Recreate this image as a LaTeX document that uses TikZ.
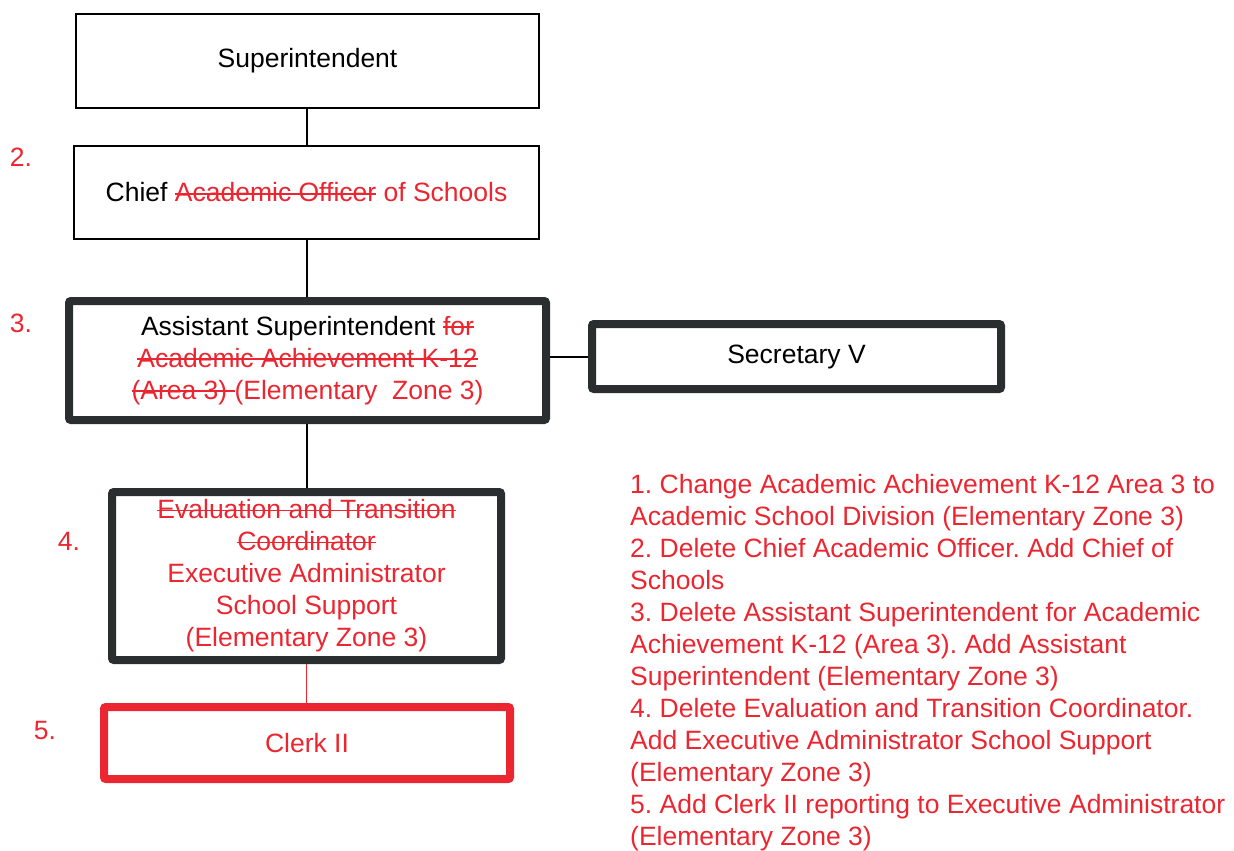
\documentclass[tikz,border=0pt]{standalone}
\usepackage{fontspec}
\setmainfont{Liberation Sans}
\usepackage{tikz}
\usetikzlibrary{positioning}
\usepackage{xcolor}

\definecolor{mred}{RGB}{236,38,48}
\definecolor{boxgray}{RGB}{42,46,46}
\newcommand{\strk}[1]{{\color{mred}\setbox0=\hbox{#1}\rlap{\rule[0.28em]{\wd0}{1.6pt}}\box0}}
\newcommand{\addtxt}[1]{{\color{mred}#1}}
\frenchspacing

\begin{document}
\begin{tikzpicture}[x=1pt,y=-1pt,
    txt/.style={font=\fontsize{26.5}{32}\selectfont, align=center, inner sep=0pt},
    thinbox/.style={txt, draw=black, line width=2pt, fill=white},
    thickbox/.style={txt, draw=boxgray, line width=8pt, fill=white, rounded corners=2pt},
    clerkbox/.style={txt, draw=mred, line width=8pt, fill=white, rounded corners=2pt},
    numlbl/.style={font=\fontsize{26.5}{32}\selectfont, text=mred, inner sep=0pt},
    link/.style={line width=2pt, black}]
                \useasboundingbox (0,0) rectangle (1234,851);

                % Superintendent box
                \node[thinbox, minimum width=463pt, minimum height=94pt] (sup) at (307.5,61) {Superintendent};

                % Chief box
                \node[thinbox, minimum width=465pt, minimum height=93pt] (chief) at (306.5,192.5)
                    {Chief \strk{Academic Officer} \addtxt{of Schools}};
                \node[numlbl] (n2) at (21,157) {2.};

                % Assistant Superintendent box
                \node[thickbox, minimum width=477pt, minimum height=119pt] (asst) at (307.5,360.5)
                    {Assistant Superintendent \strk{for}\\
                     \strk{Academic Achievement K-12}\\
                     \strk{(Area 3) }\addtxt{(Elementary \ Zone 3)}};
                \node[numlbl] (n3) at (21,323) {3.};

                % Secretary box
                \node[thickbox, minimum width=409pt, minimum height=65pt] (sec) at (796.5,356.5) {Secretary V};

                % Executive Administrator box
                \node[thickbox, minimum width=389pt, minimum height=168pt] (exec) at (306.5,576)
                    {\strk{Evaluation and Transition}\\
                     \strk{Coordinator}\\
                     \addtxt{Executive Administrator}\\
                     \addtxt{School Support}\\
                     \addtxt{(Elementary Zone 3)}};
                \node[numlbl] (n4) at (69,541) {4.};

                % Clerk box
                \node[clerkbox, minimum width=406pt, minimum height=72pt] (clerk) at (307,743) {\addtxt{Clerk II}};
                \node[numlbl] (n5) at (45,731) {5.};

                % Connectors
                \draw[link] (chief.north) -- (chief.north |- sup.south);
                \draw[link] (chief.south) -- (chief.south |- asst.north);
                \draw[link] (asst.east |- sec.west) -- (sec.west);
                \draw[link] (exec.north) -- (exec.north |- asst.south);
                \draw[mred, line width=1.2pt] (exec.south) -- (exec.south |- clerk.north);

                % Notes
                \node[anchor=north west, font=\fontsize{26.5}{32}\selectfont, text=mred, align=left, inner sep=0pt] (notes) at (630,474) {
                1. Change Academic Achievement K-12 Area 3 to\\
                Academic School Division (Elementary Zone 3)\\
                2. Delete Chief Academic Officer. Add Chief of\\
                Schools\\
                3. Delete Assistant Superintendent for Academic\\
                Achievement K-12 (Area 3). Add Assistant\\
                Superintendent (Elementary Zone 3)\\
                4. Delete Evaluation and Transition Coordinator.\\
                Add Executive Administrator School Support\\
                (Elementary Zone 3)\\
                5. Add Clerk II reporting to Executive Administrator\\
                (Elementary Zone 3)};
            \end{tikzpicture}
\end{document}
